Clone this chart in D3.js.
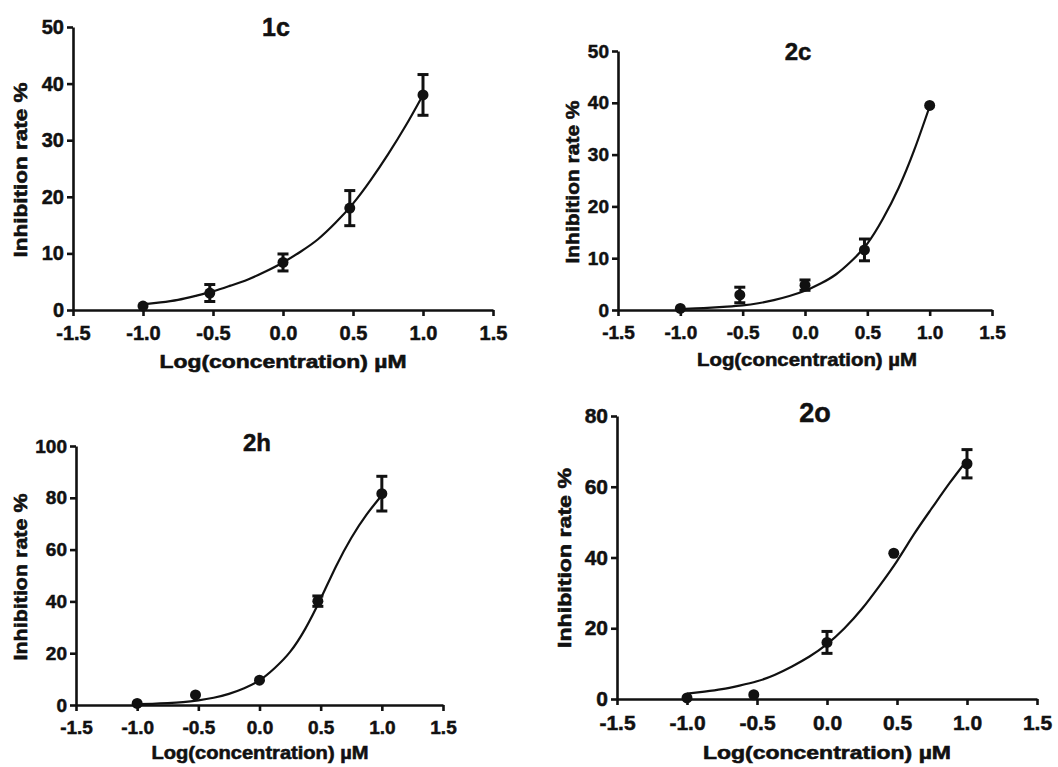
<!DOCTYPE html>
<html>
<head>
<meta charset="utf-8">
<script src="https://cdn.jsdelivr.net/npm/d3@7/dist/d3.min.js"></script>
<style>
  html, body { margin: 0; padding: 0; background: #fff; }
  svg { display: block; }
  text { font-family: "Liberation Sans", Arial, Helvetica, sans-serif; font-weight: bold; fill: #111; }
</style>
</head>
<body>
<svg id="chart" width="1058" height="767"></svg>
<script>
// ---- data ----
const doses = [-1, -0.523, 0, 0.477, 1];          // log10(µM)
const xTicks = [-1.5, -1.0, -0.5, 0.0, 0.5, 1.0, 1.5];

const mean1c = [0.7, 3.0, 8.4, 18.0, 38.0];
const err1c  = [0,   1.5, 1.5, 3.1,  3.6];
const mean2c = [0.3, 2.9, 4.8, 11.6, 39.5];
const err2c  = [0,   1.5, 1.0, 2.1,  0];
const mean2h = [0.6, 3.9, 9.6, 40.1, 81.6];
const err2h  = [0,   0,   0,   2.0,  6.7];
const mean2o = [0.3, 1.2, 16.0, 41.2, 66.5];
const err2o  = [0,   0,   3.1,  0,    4.0];

// fitted curves, every 0.125 log units
const fitX  = [-1.0, -0.875, -0.75, -0.625, -0.5, -0.375, -0.25, -0.125, 0,
               0.125, 0.25, 0.375, 0.5, 0.625, 0.75, 0.875, 1.0];
const fit1c = [1.0, 1.35, 1.8, 2.5, 3.3, 4.3, 5.4, 6.8, 8.4,
               10.3, 12.5, 15.4, 18.8, 22.9, 27.5, 32.5, 38.0];
const fit2c = [0.2, 0.3, 0.45, 0.65, 0.9, 1.3, 1.9, 2.7, 3.7,
               5.1, 6.9, 9.5, 12.8, 17.6, 23.5, 30.8, 39.3];
const fit2h = [0.3, 0.45, 0.7, 1.1, 1.8, 2.8, 4.3, 6.5, 9.5,
               14.3, 20.5, 29.5, 41.0, 53.5, 64.5, 73.5, 81.0];
const fit2o = [1.5, 2.1, 2.8, 3.8, 5.0, 6.8, 9.2, 12.0, 15.5,
               20.0, 25.5, 32.0, 39.0, 46.8, 54.0, 61.0, 67.5];

const yTicks50  = [0, 10, 20, 30, 40, 50];
const yTicks100 = [0, 20, 40, 60, 80, 100];
const yTicks80  = [0, 20, 40, 60, 80];

// ---- panel layout ----
const panels = [
  { title: '1c', mean: mean1c, err: err1c, fit: fit1c, yMax: 50, yTicks: yTicks50,
    x0: 73, x1: 493, y0: 310, y1: 27, tick: 20, titleSize: 25, titleX: 276, titleY: 36,
    xlab: { x: 283, y: 368, len: 247 }, ylab: { x: 27, y: 170, len: 175 } },
  { title: '2c', mean: mean2c, err: err2c, fit: fit2c, yMax: 50, yTicks: yTicks50,
    x0: 618, x1: 992, y0: 310, y1: 51, tick: 19, titleSize: 24, titleX: 798, titleY: 60,
    xlab: { x: 807, y: 366, len: 220 }, ylab: { x: 579, y: 182, len: 163 } },
  { title: '2h', mean: mean2h, err: err2h, fit: fit2h, yMax: 100, yTicks: yTicks100,
    x0: 76, x1: 443, y0: 705, y1: 446, tick: 19, titleSize: 24, titleX: 257, titleY: 451,
    xlab: { x: 260, y: 759, len: 217 }, ylab: { x: 27, y: 577, len: 167 } },
  { title: '2o', mean: mean2o, err: err2o, fit: fit2o, yMax: 80, yTicks: yTicks80,
    x0: 617, x1: 1037, y0: 699, y1: 416, tick: 21, titleSize: 27, titleX: 815, titleY: 422,
    xlab: { x: 827, y: 759, len: 248 }, ylab: { x: 571, y: 558, len: 180 } }
];

const svg = d3.select('#chart');
const INK = '#111';

panels.forEach(p => {
  const g = svg.append('g').attr('class', 'panel');
  const x = d3.scaleLinear().domain([-1.5, 1.5]).range([p.x0, p.x1]);
  const y = d3.scaleLinear().domain([0, p.yMax]).range([p.y0, p.y1]);

  // axes
  const xAxis = d3.axisBottom(x).tickValues(xTicks).tickFormat(d => d.toFixed(1))
    .tickSize(6).tickSizeOuter(0).tickPadding(10);
  const yAxis = d3.axisLeft(y).tickValues(p.yTicks).tickFormat(d => d)
    .tickSize(6).tickSizeOuter(0).tickPadding(3);

  const gx = g.append('g').attr('transform', `translate(0,${p.y0})`).call(xAxis);
  const gy = g.append('g').attr('transform', `translate(${p.x0},0)`).call(yAxis);
  [gx, gy].forEach(a => {
    a.select('.domain').attr('stroke', INK).attr('stroke-width', 2.6);
    a.selectAll('.tick line').attr('stroke', INK).attr('stroke-width', 2.6);
    a.selectAll('.tick text')
      .attr('font-family', '"Liberation Sans", Arial, sans-serif')
      .attr('font-weight', 'bold')
      .attr('font-size', p.tick)
      .attr('fill', INK)
      .attr('stroke', INK).attr('stroke-width', 0.5);
  });

  // fitted curve
  const line = d3.line()
    .x((d, i) => x(fitX[i]))
    .y(d => y(d))
    .curve(d3.curveNatural);
  g.append('path')
    .datum(p.fit)
    .attr('d', line)
    .attr('fill', 'none')
    .attr('stroke', INK)
    .attr('stroke-width', 2.2);

  // error bars
  const pts = doses.map((d, i) => ({ x: d, m: p.mean[i], e: p.err[i] }));
  const eb = g.append('g').selectAll('g').data(pts.filter(d => d.e > 0)).join('g');
  eb.append('line')
    .attr('x1', d => x(d.x)).attr('x2', d => x(d.x))
    .attr('y1', d => y(d.m - d.e)).attr('y2', d => y(d.m + d.e))
    .attr('stroke', INK).attr('stroke-width', 3);
  [-1, 1].forEach(s => {
    eb.append('line')
      .attr('x1', d => x(d.x) - 5.5).attr('x2', d => x(d.x) + 5.5)
      .attr('y1', d => y(d.m + s * d.e)).attr('y2', d => y(d.m + s * d.e))
      .attr('stroke', INK).attr('stroke-width', 3);
  });

  // points
  g.append('g').selectAll('circle').data(pts).join('circle')
    .attr('cx', d => x(d.x)).attr('cy', d => y(d.m))
    .attr('r', 5.5).attr('fill', INK);

  // titles
  g.append('text')
    .attr('x', p.titleX).attr('y', p.titleY)
    .attr('text-anchor', 'middle')
    .attr('font-size', p.titleSize)
    .attr('stroke', INK).attr('stroke-width', 0.5)
    .text(p.title);

  g.append('text')
    .attr('x', p.xlab.x).attr('y', p.xlab.y)
    .attr('text-anchor', 'middle')
    .attr('font-size', 19)
    .attr('textLength', p.xlab.len)
    .attr('lengthAdjust', 'spacingAndGlyphs')
    .attr('stroke', INK).attr('stroke-width', 0.6)
    .text('Log(concentration) µM');

  g.append('text')
    .attr('transform', `translate(${p.ylab.x},${p.ylab.y}) rotate(-90)`)
    .attr('text-anchor', 'middle')
    .attr('font-size', 19)
    .attr('textLength', p.ylab.len)
    .attr('lengthAdjust', 'spacingAndGlyphs')
    .attr('stroke', INK).attr('stroke-width', 0.6)
    .text('Inhibition rate %');
});
</script>
</body>
</html>
